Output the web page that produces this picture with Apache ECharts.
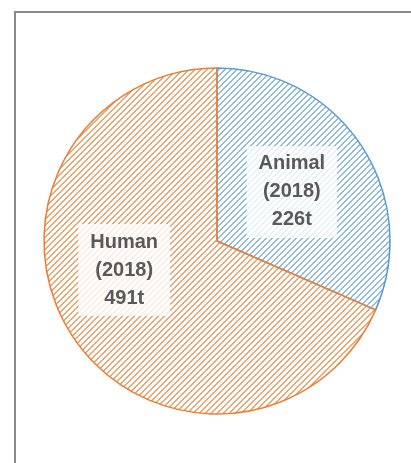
<!DOCTYPE html>
<html><head><meta charset="utf-8">
<script src="https://cdn.jsdelivr.net/npm/echarts@6/dist/echarts.min.js"></script>
<style>html,body{margin:0;padding:0;background:#fff}#c{width:411px;height:463px}</style>
</head><body><div id="c"></div>
<script>
const categories = ['Animal', 'Human'];
const values = [226, 491];
const year = '2018';
const unit = 't';
const colors = ['#5b9bd5', '#ed7d31'];
const stripeColors = ['#8ebbe5', '#f3a26c'];

function hatch(color) {
  const n = 6;
  const cv = document.createElement('canvas');
  cv.width = n; cv.height = n;
  const ctx = cv.getContext('2d');
  ctx.fillStyle = color;
  for (let i = 0; i < n; i++) {
    ctx.fillRect(i, n - 1 - i, 1, 1);
    ctx.fillRect((i + 1) % n, n - 1 - i, 1, 1);
  }
  return cv;
}

const chart = echarts.init(document.getElementById('c'), null, {renderer: 'canvas'});
chart.setOption({
  animation: false,
  graphic: [{
    type: 'rect', silent: true,
    shape: {x: 15, y: 12, width: 600, height: 600},
    style: {fill: 'none', stroke: '#8a8a8a', lineWidth: 2}
  }],
  series: [{
    type: 'pie',
    center: [217, 241],
    radius: 173,
    startAngle: 90,
    clockwise: true,
    silent: true,
    labelLine: {show: false},
    data: categories.map((name, i) => ({
      name, value: values[i],
      itemStyle: {
        color: {image: hatch(stripeColors[i]), repeat: 'repeat'},
        borderColor: colors[i], borderWidth: 1.5
      },
      label: i === 1 ? {offset: [-18, -20]} : {}
    })),
    label: {
      show: true,
      position: 'inside',
      formatter: p => p.name + '\n(' + year + ')\n' + p.value + unit,
      fontFamily: 'Liberation Sans, Arial, sans-serif',
      fontWeight: 'bold',
      fontSize: 20,
      lineHeight: 28,
      color: '#595959',
      backgroundColor: 'rgba(255,255,255,0.78)',
      padding: [4, 12]
    }
  }]
});
</script></body></html>
